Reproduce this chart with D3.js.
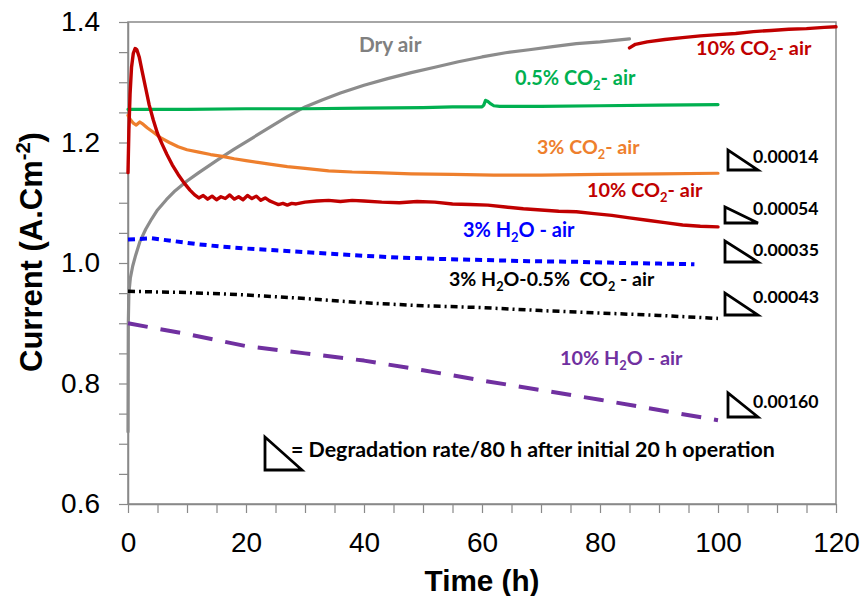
<!DOCTYPE html>
<html><head><meta charset="utf-8">
<script src="https://cdn.jsdelivr.net/npm/d3@7"></script>
<style>body{margin:0;background:#fff}svg{display:block}</style>
</head><body>
<svg id="chart" width="865" height="596"></svg>
<script>
// ---------------- DATA ----------------
const xTickLabels = [0, 20, 40, 60, 80, 100, 120];
const yTickLabels = ["0.6", "0.8", "1.0", "1.2", "1.4"];

const dryAirTime    = [0, 0.05, 0.15, 0.4, 0.8, 1.3, 2, 3, 4, 5, 6.5, 8, 10, 12, 15, 18, 21, 24, 27, 30, 33, 36, 40, 44, 48, 52, 56, 60, 64, 68, 72, 76, 80, 85];
const dryAirCurrent = [0.72, 0.90, 0.95, 0.975, 0.995, 1.013, 1.035, 1.056, 1.073, 1.088, 1.105, 1.12, 1.136, 1.15, 1.17, 1.189, 1.207, 1.225, 1.243, 1.259, 1.271, 1.282, 1.295, 1.306, 1.316, 1.325, 1.334, 1.342, 1.349, 1.354, 1.359, 1.364, 1.367, 1.372];

const co2_10aTime    = [0, 0.15, 0.35, 0.6, 0.9, 1.2, 1.5, 1.9, 2.4, 3, 3.6, 4.3, 5, 5.8, 6.6, 7.5, 8.5, 9.5, 10.5, 11.3, 12, 12.75, 13.5, 14.25, 15, 15.75, 16.5, 17.25, 18, 18.75, 19.5, 20.25, 21, 21.75, 22.5, 23.25, 24, 24.75, 25.5, 26.25, 27, 27.75, 28.5, 30, 32, 34, 36, 38, 40, 43, 46, 49, 52, 55, 58, 61, 64, 67, 70, 73, 76, 79, 82, 85, 88, 91, 94, 97, 100];
const co2_10aCurrent = [1.15, 1.22, 1.28, 1.325, 1.348, 1.356, 1.354, 1.342, 1.318, 1.29, 1.262, 1.237, 1.215, 1.197, 1.18, 1.163, 1.147, 1.133, 1.121, 1.113, 1.108, 1.112, 1.106, 1.111, 1.105, 1.11, 1.107, 1.113, 1.106, 1.11, 1.105, 1.112, 1.107, 1.111, 1.104, 1.108, 1.103, 1.1, 1.097, 1.099, 1.096, 1.099, 1.098, 1.101, 1.103, 1.104, 1.102, 1.104, 1.103, 1.101, 1.1, 1.102, 1.101, 1.098, 1.097, 1.096, 1.093, 1.09, 1.088, 1.086, 1.085, 1.082, 1.079, 1.075, 1.071, 1.067, 1.063, 1.061, 1.06];

const co2_10bTime    = [85, 86, 88, 91, 94, 97, 100, 103, 106, 109, 112, 115, 118, 120];
const co2_10bCurrent = [1.357, 1.363, 1.367, 1.371, 1.374, 1.377, 1.379, 1.381, 1.384, 1.386, 1.388, 1.389, 1.391, 1.392];

const co2_05Time    = [0, 10, 20, 30, 40, 50, 55, 60, 60.3, 60.6, 61, 61.5, 62, 63, 65, 70, 80, 90, 100];
const co2_05Current = [1.255, 1.255, 1.256, 1.256, 1.257, 1.258, 1.259, 1.259, 1.262, 1.27, 1.268, 1.264, 1.261, 1.26, 1.26, 1.26, 1.261, 1.262, 1.263];

const co2_3Time    = [0, 0.4, 0.9, 1.4, 2, 2.6, 3.3, 4.3, 5.5, 7, 8.5, 10, 12, 14, 16, 18, 20, 22, 24, 27, 30, 34, 38, 42, 48, 55, 62, 70, 80, 90, 100];
const co2_3Current = [1.245, 1.238, 1.232, 1.229, 1.234, 1.23, 1.224, 1.217, 1.208, 1.2, 1.193, 1.188, 1.184, 1.18, 1.177, 1.173, 1.17, 1.167, 1.164, 1.16, 1.157, 1.153, 1.151, 1.15, 1.148, 1.147, 1.146, 1.146, 1.147, 1.148, 1.149];

const h2o_3Time    = [0, 4, 8, 12, 16, 20, 25, 30, 35, 40, 46, 52, 60, 68, 76, 84, 90, 96];
const h2o_3Current = [1.039, 1.041, 1.036, 1.031, 1.027, 1.024, 1.021, 1.018, 1.015, 1.012, 1.009, 1.007, 1.005, 1.003, 1.002, 1.0, 0.999, 0.998];

const mixTime    = [0, 10, 20, 30, 40, 50, 60, 70, 80, 90, 100];
const mixCurrent = [0.953, 0.951, 0.947, 0.941, 0.934, 0.929, 0.926, 0.921, 0.917, 0.913, 0.908];

const h2o_10Time    = [0, 10, 20, 30, 40, 50, 60, 70, 80, 90, 100];
const h2o_10Current = [0.9, 0.882, 0.862, 0.85, 0.838, 0.822, 0.805, 0.789, 0.773, 0.756, 0.739];

const degradationRates = ["0.00014", "0.00054", "0.00035", "0.00043", "0.00160"];

// ---------------- CHART ----------------
const svg = d3.select("#chart");
const x = d3.scaleLinear().domain([0, 120]).range([128, 836]);
const y = d3.scaleLinear().domain([0.6, 1.4]).range([504, 22]);
const AX = "#898989";

// plot border (top/right)
svg.append("rect").attr("x", x(0)).attr("y", y(1.4)).attr("width", x(120) - x(0)).attr("height", y(0.6) - y(1.4))
  .attr("fill", "none").attr("stroke", AX).attr("stroke-width", 1.5);

// axes
const yTickVals = d3.range(0, 17).map(i => Math.round((0.6 + i * 0.05) * 100) / 100);
const xTickVals = d3.range(0, 25).map(i => i * 5);
const yAxis = d3.axisLeft(y).tickValues(yTickVals).tickSize(9).tickSizeOuter(0).tickPadding(19)
  .tickFormat(v => { const s = v.toFixed(1); return (Math.abs(v * 10 - Math.round(v * 10)) < 1e-6 && yTickLabels.includes(s)) ? s : ""; });
const xAxis = d3.axisBottom(x).tickValues(xTickVals).tickSize(9).tickSizeOuter(0).tickPadding(19)
  .tickFormat(v => xTickLabels.includes(v) ? String(v) : "");
const gy = svg.append("g").attr("transform", `translate(${x(0)},0)`).call(yAxis);
const gx = svg.append("g").attr("transform", `translate(0,${y(0.6)})`).call(xAxis);
[gx, gy].forEach(g => {
  g.select(".domain").attr("stroke", AX).attr("stroke-width", 1.5);
  g.selectAll(".tick line").attr("stroke", AX).attr("stroke-width", 1.2);
  g.selectAll(".tick text").attr("fill", "#000").style("font-family", "'Liberation Sans', Arial, sans-serif").style("font-size", "28px");
});

// lines
const line = d3.line().x(d => x(d[0])).y(d => y(d[1]));
function series(t, v, color, w, dash, cap) {
  const pts = t.map((tt, i) => [tt, v[i]]);
  svg.append("path").datum(pts).attr("d", line).attr("fill", "none")
    .attr("stroke", color).attr("stroke-width", w).attr("stroke-linejoin", "round")
    .attr("stroke-linecap", cap || "round")
    .attr("stroke-dasharray", dash || null);
}
series(dryAirTime, dryAirCurrent, "#8c8c8c", 3.2);
series(co2_05Time, co2_05Current, "#00B050", 3.2);
series(co2_3Time, co2_3Current, "#EE7F2D", 3.2);
series(h2o_3Time, h2o_3Current, "#0000FF", 4, "7,5", "butt");
series(mixTime, mixCurrent, "#000", 3.5, "7,4,2,4", "butt");
series(h2o_10Time, h2o_10Current, "#7030A0", 4, "20,13", "butt");
series(co2_10aTime, co2_10aCurrent, "#C00000", 3.4);
series(co2_10bTime, co2_10bCurrent, "#C00000", 3.4);

// text labels
const LF = "Lato, 'Open Sans', 'DejaVu Sans', sans-serif";
function label(parts, x0, base, targetW, color, opts) {
  opts = opts || {};
  const t = svg.append("text").attr("x", x0).attr("y", base).attr("fill", color)
    .style("font-family", opts.font || LF).style("font-weight", "700").style("font-size", "20px")
    .style("white-space", "pre").attr("text-anchor", opts.anchor || "start");
  if (opts.rotate) t.attr("transform", `rotate(-90,${x0},${base})`);
  let shift = 0;
  parts.forEach(p => {
    if (typeof p === "string") {
      const s = t.append("tspan").text(p);
      if (shift) { s.attr("dy", (-shift) + "em"); shift = 0; }
    } else if (p.sub) {
      t.append("tspan").text(p.sub).style("font-size", "0.65em").attr("dy", "0.36em"); shift = 0.234;
    } else if (p.sup) {
      t.append("tspan").text(p.sup).style("font-size", "0.65em").attr("dy", "-0.6em"); shift = -0.39;
    }
  });
  const w = t.node().getBBox().width;
  t.style("font-size", (20 * targetW / w) + "px");
  return t;
}
label(["Dry air"], 359, 52, 63, "#808080");
label(["10% CO", {sub: "2"}, "- air"], 696, 55, 116, "#C00000");
label(["0.5% CO", {sub: "2"}, "- air"], 515, 85, 121, "#00B050");
label(["3% CO", {sub: "2"}, "- air"], 537, 154, 103, "#EE7F2D");
label(["10% CO", {sub: "2"}, "- air"], 587, 197, 116, "#C00000");
label(["3% H", {sub: "2"}, "O - air"], 463, 237, 112, "#0000FF");
label(["3% H", {sub: "2"}, "O-0.5%  CO", {sub: "2"}, " - air"], 449, 286, 206, "#000");
label(["10% H", {sub: "2"}, "O - air"], 560, 365, 123, "#7030A0");

// degradation triangles
const tri = [[728, 150, 170, 758, 163], [725, 207, 223, 758, 215], [725, 241, 262, 758, 256], [725, 293, 315, 758, 303], [728, 393, 417, 758, 408]];
tri.forEach((tr, i) => {
  svg.append("path").attr("d", `M${tr[0]},${tr[1]}L${tr[0]},${tr[2]}L${tr[3]},${tr[2]}Z`)
    .attr("fill", "none").attr("stroke", "#000").attr("stroke-width", 2.8);
  label([degradationRates[i]], 753, tr[4], 66, "#000");
});
svg.append("path").attr("d", "M265,437L265,470L302,470Z").attr("fill", "none").attr("stroke", "#000").attr("stroke-width", 2.8);
label(["= Degradation rate/80 h after initial 20 h operation"], 291, 457, 484, "#000");

// axis titles
label(["Time (h)"], 482, 591, 115, "#000", {font: "'Liberation Sans', Arial, sans-serif", anchor: "middle"});
label(["Current (A.Cm", {sup: "-2"}, ")"], 42, 252, 240, "#000", {font: "'Liberation Sans', Arial, sans-serif", anchor: "middle", rotate: true});
</script>
</body></html>
